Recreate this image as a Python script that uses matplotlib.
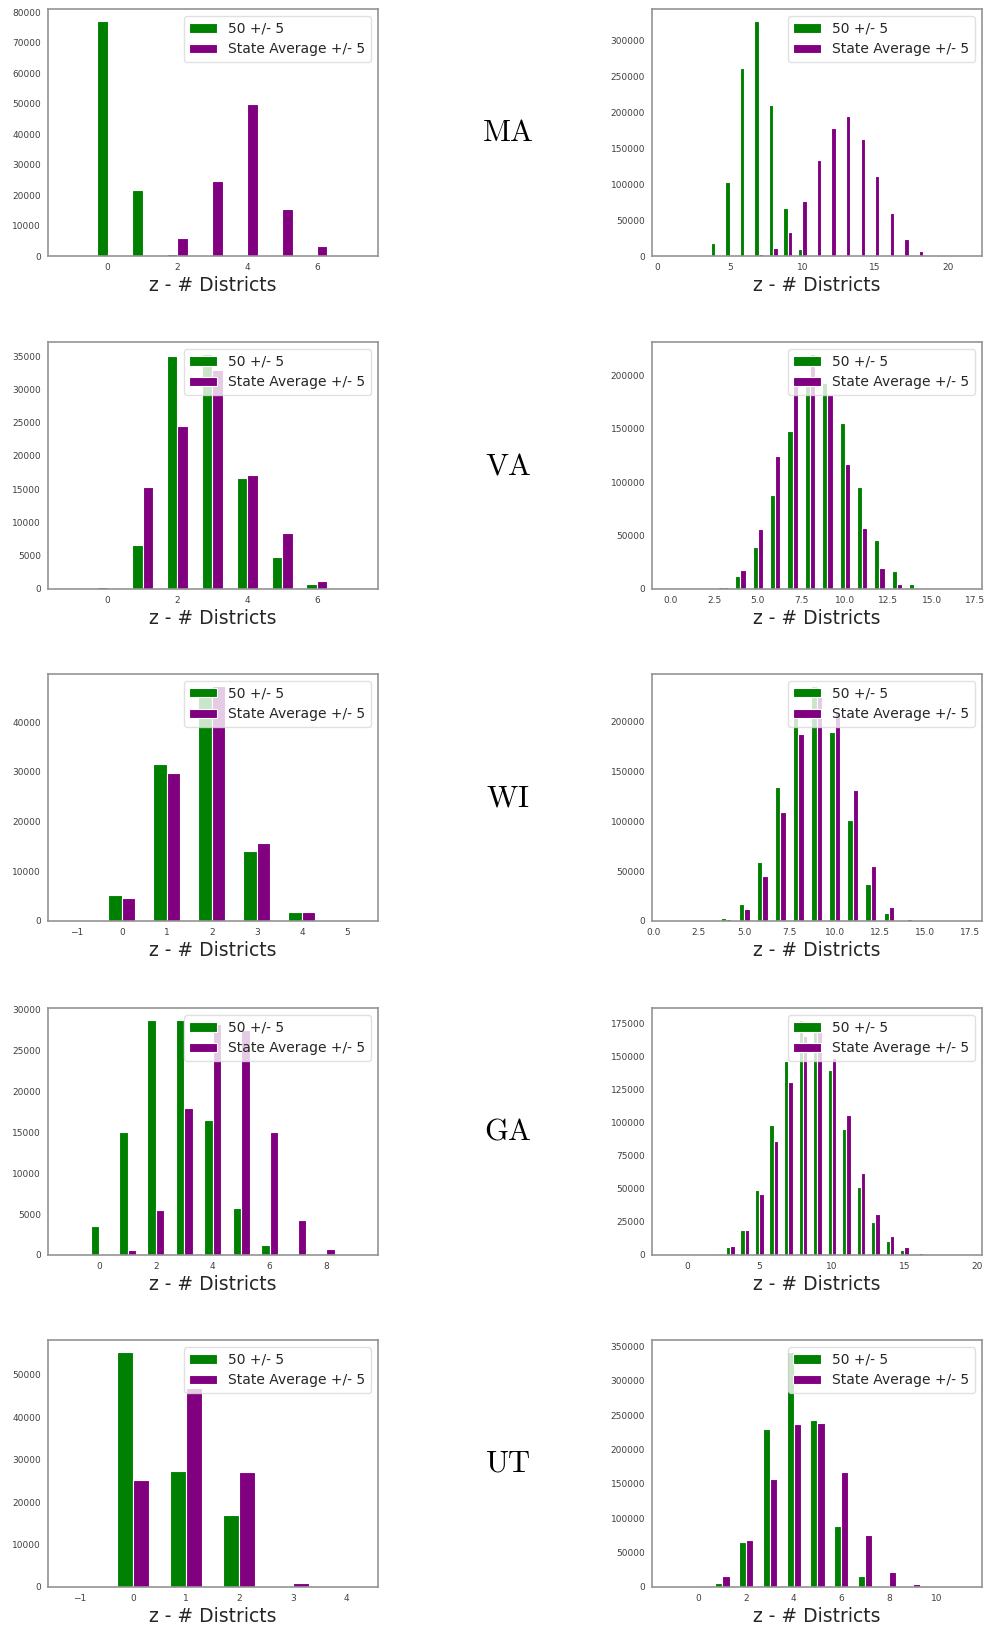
import numpy as np
import matplotlib
matplotlib.use("Agg")
import matplotlib.pyplot as plt
from matplotlib.ticker import MaxNLocator

plt.rcParams['mathtext.fontset'] = 'cm'
plt.rcParams['font.family'] = ['DejaVu Sans']

states = ['MA', 'VA', 'WI', 'GA', 'UT']
label_a = '50 +/- 5'
label_b = 'State Average +/- 5'

# ---- left column: z values and counts ----
ma_l_z = [-1, 0, 1, 2, 3, 4, 5, 6, 7]
ma_l_g = [0, 77300, 21800, 700, 0, 0, 0, 0, 0]
ma_l_p = [0, 0, 0, 6000, 24500, 49800, 15500, 3200, 0]

va_l_z = [-1, 0, 1, 2, 3, 4, 5, 6, 7]
va_l_g = [0, 300, 6670, 35000, 35350, 16700, 4750, 700, 0]
va_l_p = [0, 100, 15350, 24500, 32900, 17200, 8400, 1200, 0]

wi_l_z = [-1, 0, 1, 2, 3, 4, 5]
wi_l_g = [0, 5300, 31500, 46000, 14000, 1800, 0]
wi_l_p = [0, 4650, 29700, 47300, 15700, 1800, 0]

ga_l_z = [-1, 0, 1, 2, 3, 4, 5, 6, 7, 8, 9]
ga_l_g = [0, 3570, 15100, 28800, 28800, 16500, 5800, 1270, 0, 0, 0]
ga_l_p = [0, 0, 650, 5500, 17950, 28300, 27500, 15000, 4300, 740, 0]

ut_l_z = [-1, 0, 1, 2, 3, 4]
ut_l_g = [0, 55400, 27400, 16900, 0, 0]
ut_l_p = [0, 25100, 46800, 27100, 950, 0]

# ---- right column ----
ma_r_z = list(range(1, 22))
ma_r_g = [0, 0, 500, 17700, 102800, 261000, 327000, 210000, 66500, 9800, 800,
          0, 0, 0, 0, 0, 0, 0, 0, 0, 0]
ma_r_p = [0, 0, 0, 0, 0, 300, 2800, 10700, 33000, 76000, 133500, 178000,
          195000, 163000, 111000, 59500, 23700, 7400, 1400, 200, 0]

va_r_z = list(range(0, 17))
va_r_g = [0, 0, 0, 2200, 12500, 39500, 87800, 148000, 190000, 193000, 155000,
          95000, 46000, 17000, 5000, 600, 0]
va_r_p = [0, 0, 0, 2200, 17500, 56400, 124000, 195000, 220000, 181000, 116600,
          57000, 20000, 4400, 300, 0, 0]

wi_r_z = list(range(1, 18))
wi_r_g = [0, 0, 0, 3000, 17000, 58700, 134600, 205000, 236000, 190000, 101700,
          37000, 8400, 1000, 0, 0, 0]
wi_r_p = [0, 0, 0, 2000, 11700, 45000, 109000, 187600, 229000, 210000, 131000,
          55000, 14400, 2300, 0, 0, 0]

ga_r_z = list(range(-1, 20))
ga_r_g = [0, 0, 0, 1000, 5800, 19000, 49000, 98500, 147000, 178000, 170000,
          140000, 95500, 51800, 25000, 10400, 3800, 1000, 0, 0, 0]
ga_r_p = [0, 0, 0, 500, 6600, 19000, 46000, 86400, 131000, 166000, 169000,
          149000, 106000, 61900, 31300, 14400, 5800, 1500, 0, 0, 0]

ut_r_z = list(range(-1, 12))
ut_r_g = [0, 0, 5800, 65000, 230000, 342000, 242500, 88600, 15600, 0, 0, 0, 0]
ut_r_p = [0, 1500, 16500, 69000, 157000, 236600, 238600, 167500, 75000, 22400,
          3900, 0, 0]

left_panels = [(ma_l_z, ma_l_g, ma_l_p), (va_l_z, va_l_g, va_l_p),
               (wi_l_z, wi_l_g, wi_l_p), (ga_l_z, ga_l_g, ga_l_p),
               (ut_l_z, ut_l_g, ut_l_p)]
right_panels = [(ma_r_z, ma_r_g, ma_r_p), (va_r_z, va_r_g, va_r_p),
                (wi_r_z, wi_r_g, wi_r_p), (ga_r_z, ga_r_g, ga_r_p),
                (ut_r_z, ut_r_g, ut_r_p)]

left_xlims = [(-1.71, 7.75), (-1.71, 7.75), (-1.64, 5.69), (-1.8, 9.82), (-1.59, 4.6)]
right_xlims = [(-0.34, 22.35), (-1.09, 17.9), (-0.09, 18.14), (-2.4, 20.35), (-1.96, 11.92)]

W, H = 987, 1627
fig = plt.figure(figsize=(W / 100, H / 100), dpi=100)

row_tops = [9, 342, 674, 1008, 1340]
ax_h = 247
ax_w = 330


def draw_panel(ax, z, g, p, xlim):
    z = np.array(z, dtype=float)
    edges = np.arange(z.min() - 0.5, z.max() + 1.0, 1.0)
    ax.hist([z, z], bins=edges, weights=[g, p], rwidth=0.6,
            color=['green', 'purple'], edgecolor='white', linewidth=0.8,
            label=[label_a, label_b])
    ax.set_xlim(*xlim)
    ax.xaxis.set_major_locator(MaxNLocator(nbins=9, steps=[1, 2, 2.5, 5, 10]))
    ax.yaxis.set_major_locator(MaxNLocator(nbins=9, steps=[1, 2, 2.5, 5, 10]))
    ax.tick_params(length=0, labelsize=6.5, labelcolor='0.25', pad=5)
    for s in ax.spines.values():
        s.set_color('0.58')
        s.set_linewidth(1.2)
    ax.set_xlabel('z - # Districts', fontsize=13.5, color='0.15', labelpad=3)
    leg = ax.legend(loc='upper right', fontsize=10, framealpha=0.8,
                    handlelength=2.0, borderaxespad=0.5)
    leg.get_frame().set_edgecolor('0.85')
    for t in leg.get_texts():
        t.set_color('0.15')


for i, st in enumerate(states):
    top = row_tops[i]
    bottom = 1 - (top + ax_h) / H
    axl = fig.add_axes([48 / W, bottom, ax_w / W, ax_h / H])
    draw_panel(axl, *left_panels[i], left_xlims[i])
    axr = fig.add_axes([652 / W, bottom, ax_w / W, ax_h / H])
    draw_panel(axr, *right_panels[i], right_xlims[i])
    fig.text(508 / W, 1 - (top + ax_h / 2) / H, r'$\mathrm{%s}$' % st,
             fontsize=22, ha='center', va='center', color='black')

fig.savefig('out.png', dpi=100)
